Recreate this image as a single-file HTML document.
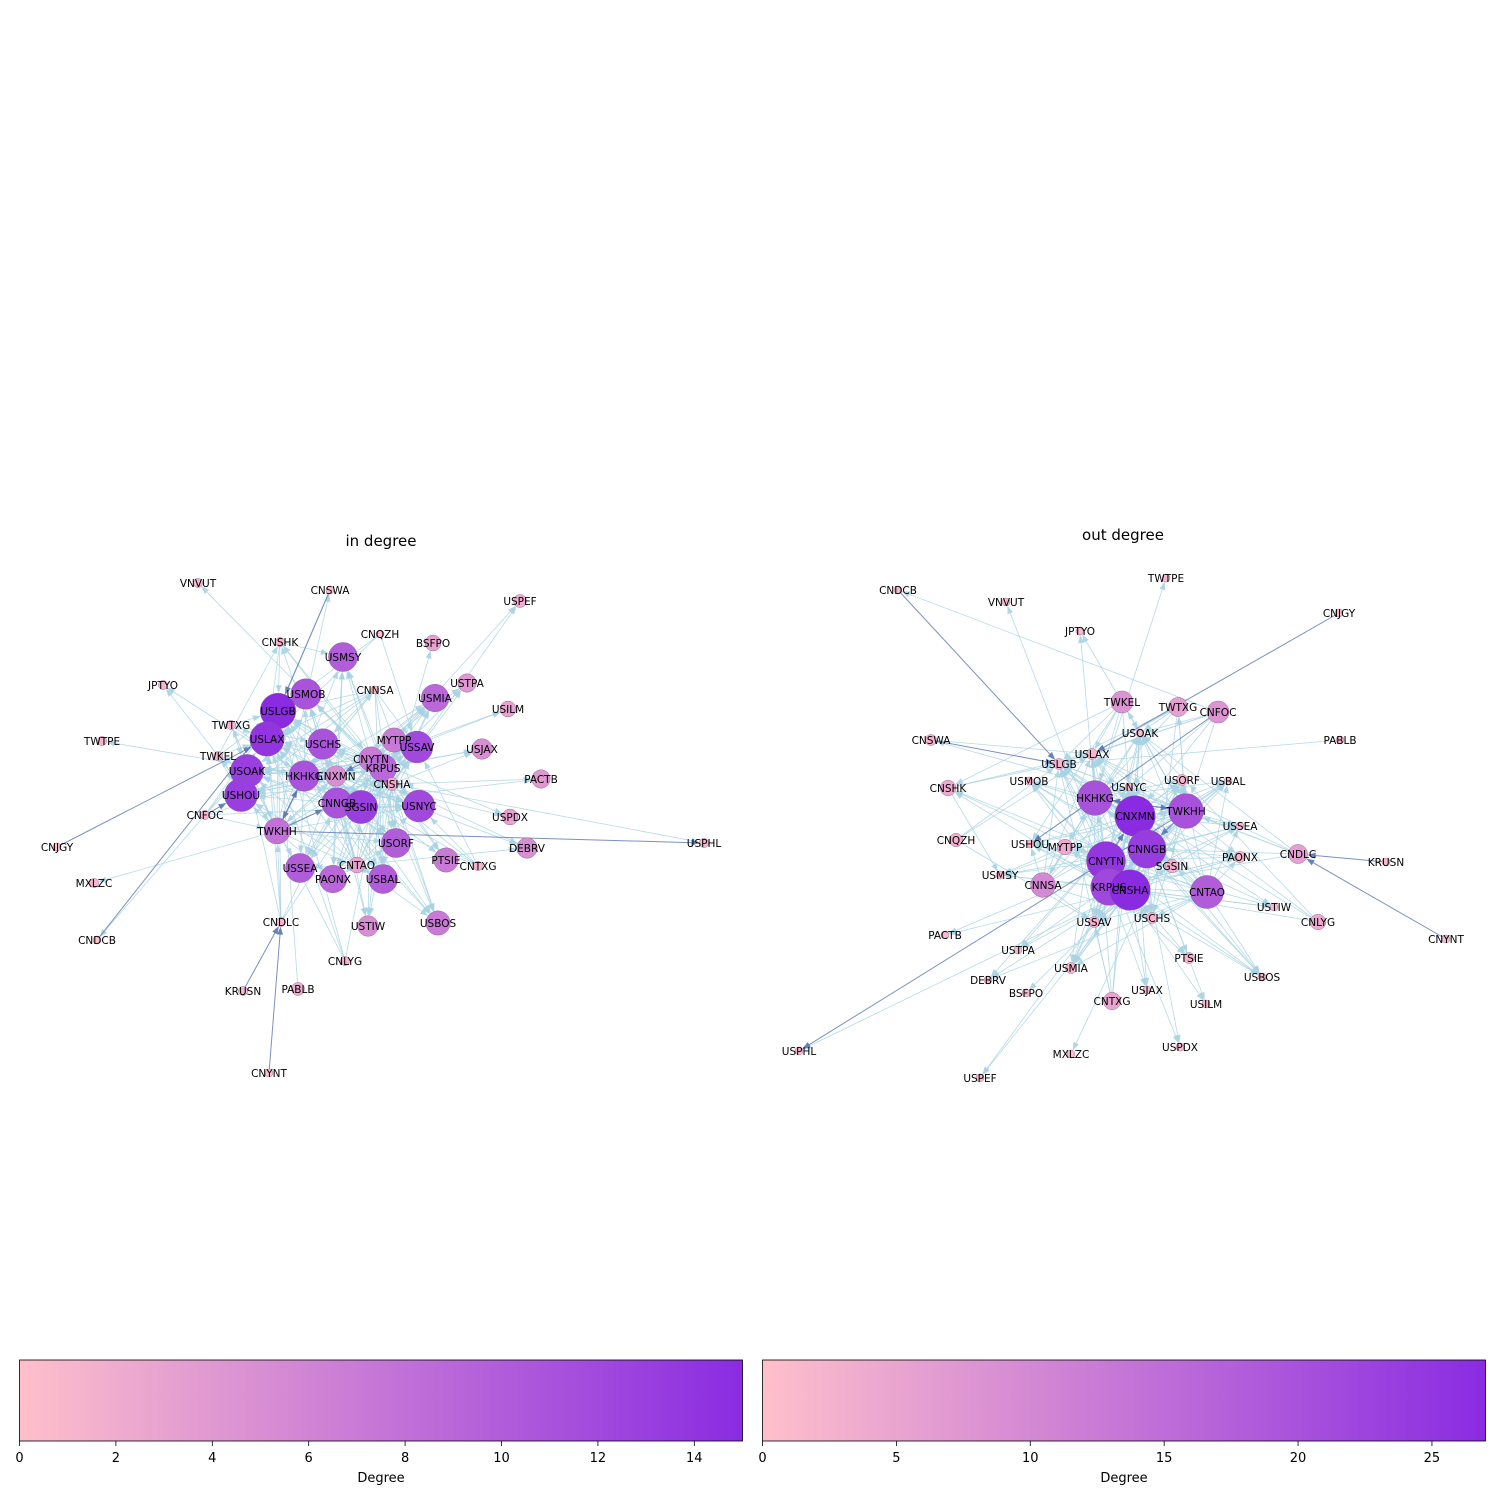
<!DOCTYPE html>
<html><head><meta charset="utf-8">
<style>
html,body{margin:0;padding:0;background:#fff;}
svg{display:block;font-family:"DejaVu Sans","Liberation Sans",sans-serif;}
</style></head>
<body>
<svg id="s" width="1500" height="1500" viewBox="0 0 1500 1500" xmlns="http://www.w3.org/2000/svg">
<defs>
<linearGradient id="cg" x1="0" x2="1" y1="0" y2="0">
<stop offset="0" stop-color="rgb(255,192,203)"/>
<stop offset="1" stop-color="rgb(138,43,226)"/>
</linearGradient>
</defs>
<text x="381" y="546" font-size="15" text-anchor="middle">in degree</text>
<text x="1123" y="540" font-size="15" text-anchor="middle">out degree</text>
<g id="left"></g>
<g id="right"></g>
<g id="cbars"></g>
</svg>
<script>
// ---- Left graph (in degree) data ----
const leftNames=["VNVUT","CNSWA","USPEF","CNSHK","CNQZH","BSFPO","USMSY","USMOB","CNNSA","USTPA","JPTYO","USLGB","USMIA","USILM","TWTXG","TWTPE","USLAX","USCHS","MYTPP","USSAV","USJAX","TWKEL","CNYTN","KRPUS","USOAK","HKHKG","CNXMN","CNSHA","PACTB","USHOU","CNNGB","SGSIN","USNYC","CNFOC","USPDX","TWKHH","USORF","DEBRV","CNJGY","USPHL","PTSIE","CNTAO","CNTXG","USSEA","PAONX","USBAL","MXLZC","CNDLC","USTIW","USBOS","CNDCB","CNLYG","KRUSN","PABLB","CNYNT"];
const leftX=[198,330,520,280,380,433,343,306,375,467,163,278,435,508,231,102,267,323,394,417,482,218,371,383,247,304,336,392,541,241,337,361,419,205,510,277,396,527,57,704,446,357,478,300,333,383,94,281,368,438,97,345,243,298,269];
const leftY=[583,590,601,642,634,643,657,694,690,683,685,711,698,709,725,741,739,744,740,747,749,756,759,768,771,776,776,784,779,795,803,807,806,815,817,831,843,848,847,843,860,865,866,868,879,879,883,922,926,923,940,961,991,989,1073];
const leftDeg=[1,0,2,1,0,3,10,11,0,4,1,15,9,3,1,1,14,11,7,12,5,1,7,9,13,11,5,2,4,13,11,13,12,1,3,8,10,5,0,1,7,3,1,10,9,10,1,1,5,7,0,1,1,2,0];
// ---- Right graph (out degree) data ----
const rightNames=["CNDCB","VNVUT","TWTPE","CNJGY","JPTYO","TWKEL","TWTXG","CNFOC","CNSWA","PABLB","USLAX","USOAK","USLGB","USMOB","USNYC","USORF","USBAL","CNSHK","HKHKG","CNXMN","TWKHH","USSEA","CNQZH","USHOU","MYTPP","CNNGB","PAONX","CNDLC","KRUSN","CNYTN","SGSIN","USMSY","CNNSA","KRPUS","CNSHA","CNTAO","USTIW","CNLYG","USCHS","USSAV","PACTB","CNYNT","USTPA","PTSIE","USMIA","USBOS","DEBRV","BSFPO","USJAX","CNTXG","USILM","USPDX","MXLZC","USPHL","USPEF"];
const rightX=[898,1006,1166,1339,1080,1122,1178,1218,931,1340,1092,1140,1059,1029,1129,1182,1228,948,1095,1135,1186,1240,956,1030,1065,1147,1240,1298,1386,1106,1172,1000,1043,1109,1130,1207,1274,1318,1152,1094,945,1446,1018,1189,1071,1262,988,1026,1147,1112,1206,1180,1071,799,980];
const rightY=[590,602,578,613,631,702,707,712,740,740,754,733,764,781,787,780,781,788,798,816,811,826,840,844,847,849,857,854,862,861,866,875,885,887,890,892,907,922,918,922,935,939,950,958,968,977,980,993,990,1001,1004,1047,1054,1051,1078];
const rightDeg=[1,1,1,1,1,8,6,8,2,1,2,1,2,1,1,2,1,4,20,27,20,1,3,1,4,24,2,6,1,25,3,1,10,22,27,18,1,4,2,2,1,1,1,2,2,1,1,1,1,5,1,1,1,1,1];
// ---- Edges (source -> targets), shared by both graphs ----
const edgeSources=["CNXMN","CNSHA","CNYTN","CNNGB","KRPUS","HKHKG","TWKHH","CNTAO","CNNSA","TWKEL","TWTXG","CNFOC","CNDLC","CNLYG","CNSHK","CNQZH","SGSIN","CNTXG","CNSWA","CNJGY","CNYNT","KRUSN","CNDCB","PABLB"];
const edgeTargets=[
"USLGB USLAX USOAK USHOU USCHS USSAV USNYC USORF USSEA USBAL USMIA USMOB USMSY USTIW USBOS HKHKG TWKHH KRPUS CNSHA SGSIN PAONX USJAX USPDX USILM DEBRV PTSIE USTPA",
"USLGB USLAX USOAK USHOU USCHS USSAV USNYC USORF USSEA USBAL USMIA USMOB USMSY USBOS KRPUS SGSIN PAONX USPEF BSFPO USTPA USJAX USPHL MYTPP CNNGB PACTB USTIW DEBRV",
"USLGB USLAX USOAK USHOU USCHS USSAV USNYC USORF USSEA USBAL USMIA MYTPP SGSIN PAONX USBOS USTIW HKHKG KRPUS USMOB USPDX PTSIE USILM VNVUT USMSY CNXMN",
"USLGB USLAX USOAK USHOU USCHS USSAV USNYC USORF USSEA USBAL USMIA USMOB KRPUS SGSIN MYTPP PAONX USBOS USTIW CNSHA HKHKG PACTB USPEF USMSY TWKHH",
"USLGB USLAX USOAK USHOU USCHS USSAV USNYC USORF USSEA USBAL USMIA USMOB PAONX USBOS USTIW CNNGB CNXMN USMSY USJAX USTPA PTSIE CNSHK",
"USLGB USLAX USOAK USHOU USCHS USSAV USNYC USORF USSEA USBAL MYTPP SGSIN CNXMN TWKHH USMOB USMIA USBOS JPTYO TWTPE CNNSA",
"USLGB USLAX USOAK USHOU USCHS USSAV USNYC USORF USSEA USBAL HKHKG CNXMN USMIA USMSY TWKEL TWTXG CNSWA PAONX JPTYO MXLZC",
"USLGB USLAX USOAK USHOU USCHS USSAV USNYC USORF USSEA USBAL KRPUS SGSIN USMIA USMOB USBOS PAONX DEBRV CNSHK",
"USLGB USLAX USOAK USHOU USCHS USSAV USNYC USORF USBAL HKHKG",
"USLAX USLGB USOAK USHOU TWKHH HKHKG USNYC CNSHK",
"USLAX USLGB USOAK TWKHH HKHKG USCHS",
"USLAX USLGB USOAK USHOU USNYC TWKHH CNXMN CNDCB",
"USLAX USLGB USOAK CNNGB KRPUS TWKHH",
"USLGB USLAX USOAK KRPUS",
"USLGB USLAX USMSY CNYTN",
"USLGB USLAX USSAV",
"USNYC USSAV USORF",
"USLGB USLAX USOAK USNYC USSAV",
"USLAX USLGB",
"USLAX",
"CNDLC",
"CNDLC",
"USLGB",
"USLGB"];
const darkEdges=["TWKHH HKHKG","HKHKG TWKHH","TWKHH CNNGB","CNYTN CNXMN","CNDCB USLGB","CNJGY USLAX","CNYNT CNDLC","KRUSN CNDLC","CNFOC USHOU","TWKHH USPHL","CNSWA USLGB"];

const NS="http://www.w3.org/2000/svg";
function mk(tag,attrs,parent){const e=document.createElementNS(NS,tag);for(const k in attrs)e.setAttribute(k,attrs[k]);parent.appendChild(e);return e;}
function col(t){t=Math.max(0,Math.min(1,t));const r=Math.round(255+(138-255)*t),g=Math.round(192+(43-192)*t),b=Math.round(203+(226-203)*t);return `rgb(${r},${g},${b})`;}

function drawGraph(gid,names,xs,ys,degs,vmax,k,minR){
  const g=document.getElementById(gid);
  const idx={};names.forEach((n,i)=>idx[n]=i);
  const rad=d=>Math.max(minR,k*Math.sqrt(d));
  const eg=mk('g',{},g);
  
  
  const darkSet=new Set(darkEdges);
  const drawEdge=(s,t,dark)=>{
    if(idx[s]===undefined||idx[t]===undefined||s===t)return;
    const a=idx[s],b=idx[t];
    const x1=xs[a],y1=ys[a],x2=xs[b],y2=ys[b];
    const dx=x2-x1,dy=y2-y1,L=Math.hypot(dx,dy);if(L<1)return;
    const ux=dx/L,uy=dy/L;const r=rad(degs[b]);
    const ex=x2-ux*r,ey=y2-uy*r;
    const c=dark?'#5a74b0':'#a9d3e3';
    const ln=mk('line',{x1:x1,y1:y1,x2:ex-ux*6,y2:ey-uy*6,stroke:c,'stroke-width':dark?1:0.8,'stroke-opacity':dark?0.8:0.85},eg);
    
    
    const px=-uy,py=ux,bx=ex-ux*8,by=ey-uy*8;
    const ah=mk('polygon',{points:`${ex},${ey} ${bx+px*3},${by+py*3} ${bx-px*3},${by-py*3}`,fill:c,'fill-opacity':0.9},eg);
    
    
  };
  edgeSources.forEach((s,i)=>{edgeTargets[i].split(' ').forEach(t=>{if(!darkSet.has(s+' '+t))drawEdge(s,t,false);});});
  darkEdges.forEach(p=>{const [s,t]=p.split(' ');drawEdge(s,t,true);});
  const ng=mk('g',{},g);
  
  
  const order=names.map((n,i)=>i);
  order.forEach(i=>{
    const c=mk('circle',{cx:xs[i],cy:ys[i],r:rad(degs[i]),fill:col(degs[i]/vmax),stroke:'#7a5a8a','stroke-width':0.4},ng);
    
    
  });
  const lg=mk('g',{},g);
  
  
  order.forEach(i=>{
    const t=mk('text',{x:xs[i],y:ys[i]+4,'font-size':10.5,'text-anchor':'middle',fill:'#000'},lg);
    t.textContent=names[i];
    
    
  });
}
drawGraph('left',leftNames,leftX,leftY,leftDeg,15,4.6,4);
drawGraph('right',rightNames,rightX,rightY,rightDeg,27,3.9,4);

// ---- Colorbars ----
const leftTicks=[0,2,4,6,8,10,12,14];
const rightTicks=[0,5,10,15,20,25];
function drawBar(x0,x1,vmax,ticks,name){
  const cb=document.getElementById('cbars');
  const g=mk('g',{},cb);
  
  
  mk('rect',{x:x0,y:1360,width:x1-x0,height:81,fill:'url(#cg)',stroke:'#000','stroke-width':0.8},g);
  ticks.forEach(v=>{
    const x=x0+(x1-x0)*v/vmax;
    mk('line',{x1:x,x2:x,y1:1441,y2:1446,stroke:'#000','stroke-width':0.8},g);
    const t=mk('text',{x:x,y:1462,'font-size':13,'text-anchor':'middle'},g);
    t.textContent=v;
    
    
  });
  const l=mk('text',{x:(x0+x1)/2,y:1482,'font-size':13,'text-anchor':'middle'},g);
  l.textContent='Degree';
  
  
}
drawBar(19.5,742.5,15,leftTicks,'in-degree-colorbar');
drawBar(762.5,1485.5,27,rightTicks,'out-degree-colorbar');
</script>
</body></html>
